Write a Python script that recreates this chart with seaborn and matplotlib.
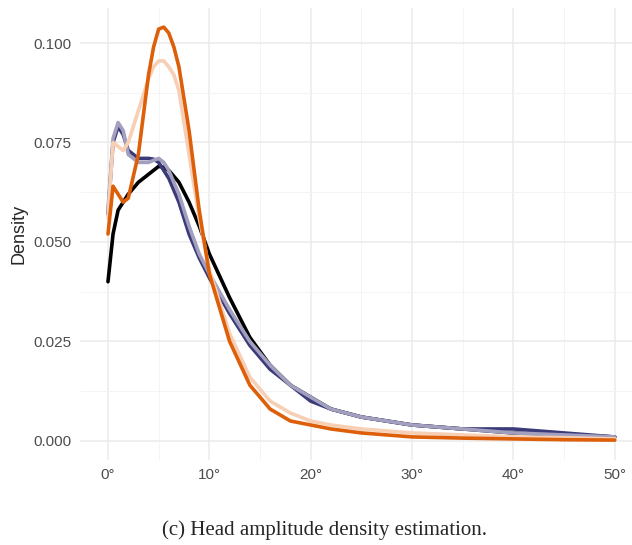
import matplotlib
matplotlib.use("Agg")
import matplotlib.pyplot as plt
import seaborn as sns
import pandas as pd
from matplotlib.ticker import MultipleLocator, FuncFormatter

angle = [0, 0.5, 1, 1.5, 2, 3, 4, 4.5, 5, 5.5, 6, 6.5, 7, 8, 9, 10, 12, 14, 16, 18, 20, 22, 25, 30, 35, 40, 45, 50]
black = [0.040, 0.052, 0.058, 0.060, 0.062, 0.065, 0.067, 0.068, 0.069, 0.0688, 0.068, 0.0665, 0.065, 0.060, 0.054, 0.047, 0.036, 0.026, 0.019, 0.014, 0.011, 0.008, 0.006, 0.004, 0.003, 0.002, 0.0015, 0.001]
orange = [0.052, 0.064, 0.062, 0.060, 0.061, 0.072, 0.092, 0.099, 0.1035, 0.104, 0.1025, 0.099, 0.094, 0.078, 0.058, 0.042, 0.025, 0.014, 0.008, 0.005, 0.004, 0.003, 0.002, 0.001, 0.0007, 0.0005, 0.0003, 0.0002]
peach = [0.056, 0.075, 0.074, 0.073, 0.075, 0.083, 0.091, 0.094, 0.0955, 0.0955, 0.094, 0.092, 0.088, 0.072, 0.056, 0.043, 0.027, 0.016, 0.010, 0.007, 0.005, 0.004, 0.003, 0.002, 0.0015, 0.001, 0.0008, 0.0005]
navy = [0.057, 0.075, 0.079, 0.077, 0.073, 0.071, 0.071, 0.0708, 0.070, 0.068, 0.066, 0.063, 0.060, 0.052, 0.046, 0.041, 0.032, 0.024, 0.018, 0.014, 0.010, 0.008, 0.006, 0.004, 0.003, 0.003, 0.002, 0.001]
lavender = [0.058, 0.076, 0.080, 0.078, 0.072, 0.070, 0.070, 0.0705, 0.071, 0.070, 0.068, 0.065, 0.062, 0.054, 0.047, 0.042, 0.033, 0.025, 0.019, 0.014, 0.011, 0.008, 0.006, 0.004, 0.003, 0.002, 0.0015, 0.001]

series = {"black": black, "navy": navy, "lavender": lavender, "peach": peach, "orange": orange}
colors = {"black": "#000000", "navy": "#3b3b7a", "lavender": "#a39fbf", "peach": "#f6cfb4", "orange": "#dd5f0a"}

df = pd.concat([pd.DataFrame({"angle": angle, "density": v, "group": k}) for k, v in series.items()])

sns.set_style("white")
plt.rcParams['font.family'] = ['Liberation Sans', 'DejaVu Sans']
fig = plt.figure(figsize=(6.32, 5.45), dpi=100)
ax = fig.add_axes([80 / 632, 85 / 545, 552 / 632, 452 / 545])
sns.lineplot(data=df, x="angle", y="density", hue="group", palette=colors, lw=2.6, legend=False, ax=ax,
             solid_joinstyle="round", solid_capstyle="round")

ax.set_xlim(-2.76, 51.7)
ax.set_ylim(-0.0048, 0.1088)
ax.xaxis.set_major_locator(MultipleLocator(10))
ax.xaxis.set_minor_locator(MultipleLocator(5))
ax.yaxis.set_major_locator(MultipleLocator(0.025))
ax.yaxis.set_minor_locator(MultipleLocator(0.0125))
ax.xaxis.set_major_formatter(FuncFormatter(lambda v, p: f"{v:.0f}°"))
ax.yaxis.set_major_formatter(FuncFormatter(lambda v, p: f"{v:.3f}"))
ax.grid(which="major", color="#ebebeb", lw=1.1)
ax.grid(which="minor", color="#f3f3f3", lw=0.6)
ax.set_axisbelow(True)
for s in ax.spines.values():
    s.set_visible(False)
ax.tick_params(which="both", length=0, labelsize=11, labelcolor="#4d4d4d", pad=6)
ax.set_xlabel("")
ax.set_ylabel("Density", fontsize=13)
fig.text(325 / 632, 1 - 530 / 545, "(c) Head amplitude density estimation.", ha="center", va="center",
         fontsize=15, family="Liberation Serif")
fig.savefig("out.png", dpi=100)
